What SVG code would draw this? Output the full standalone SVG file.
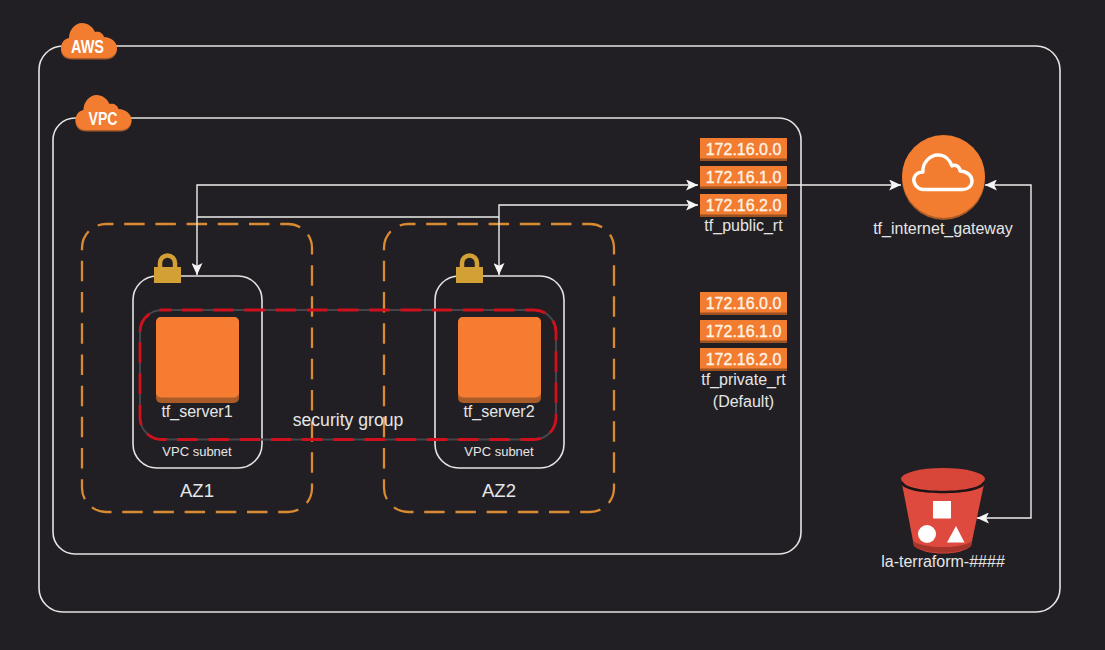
<svg xmlns="http://www.w3.org/2000/svg" width="1105" height="650" viewBox="0 0 1105 650">
<style>
text{font-family:"Liberation Sans",Arial,sans-serif;fill:#e6e6e6;text-anchor:middle}
.box{fill:none;stroke:#e4e4e4;stroke-width:1.6}
.az{fill:none;stroke:#d98a33;stroke-width:2.300;stroke-dasharray:20.500 10.700;stroke-dashoffset:13}
.sgb{fill:none;stroke:#45454a;stroke-width:2}
.sgr{fill:none;stroke:#d0101c;stroke-width:2.800;stroke-dasharray:20.500 10.700;stroke-dashoffset:11.200}
.c{fill:none;stroke:#eeeeee;stroke-width:1.4}
.cidr{font-size:16px;fill:#fff3e6;stroke:#fff3e6;stroke-width:.35px}
.lbl{font-size:16px}
.sm{font-size:13px}
.tag{font-size:18.500px;font-weight:bold;fill:#fff}
</style>
<defs>
<marker id="a" viewBox="0 0 14 12" refX="13" refY="6" markerWidth="13" markerHeight="11" markerUnits="userSpaceOnUse" orient="auto-start-reverse"><path d="M0 0L13 6L0 12L3 6Z" fill="#f5f5f5"/></marker>
<g id="rt"><rect width="87" height="23" fill="#9c5221"/><rect width="87" height="20.500" fill="#f27c2f"/></g>
<g id="lock"><path d="M-7.500 0V-6a7.500 7.500 0 0 1 15 0V0" fill="none" stroke="#d2a035" stroke-width="4.500"/><rect x="-13.500" y="-2" width="27" height="16" fill="#d2a035"/></g>
<g id="srv"><rect width="83" height="86" rx="5" fill="#a95b28"/><rect width="83" height="80.500" rx="5" fill="#f67c31"/></g>
<path id="tagshape" d="M72 58C65 58 61 54 61 48C61 43 64 39 69 38C69 30 75 23 82 23C88 23 93 27 95 32C99 31 103 33 104 37C111 37 117 42 117 48C117 54 112 58 106 58Z"/>
</defs>
<rect width="1105" height="650" fill="#211f23"/>
<rect id="aws-frame" class="box" x="39" y="46" width="1021" height="566" rx="24"/>
<rect id="vpc-frame" class="box" x="53" y="118" width="748" height="436" rx="22"/>

<g id="aws-tag"><use href="#tagshape" y="1.500" fill="#a95b28"/><use href="#tagshape" fill="#f27c2f"/><text class="tag" x="87.500" y="52.500" textLength="33" lengthAdjust="spacingAndGlyphs">AWS</text></g>
<g id="vpc-tag"><use href="#tagshape" x="14.500" y="73.500" fill="#a95b28"/><use href="#tagshape" x="14.500" y="72" fill="#f27c2f"/><text class="tag" x="103" y="124.500" textLength="29" lengthAdjust="spacingAndGlyphs">VPC</text></g>

<g id="az1"><rect class="az" x="82" y="224" width="230" height="288" rx="24"/><text x="197" y="497" font-size="18.500">AZ1</text></g>
<g id="az2"><rect class="az" x="384" y="224" width="230" height="288" rx="24"/><text x="499" y="497" font-size="18.500">AZ2</text></g>

<g id="subnet1"><rect class="box" x="133" y="276" width="129" height="192" rx="24"/><use href="#lock" x="167.500" y="269"/><text class="sm" x="197" y="456">VPC subnet</text></g>
<g id="subnet2"><rect class="box" x="435" y="276" width="129" height="192" rx="24"/><use href="#lock" x="469.500" y="269"/><text class="sm" x="499" y="456">VPC subnet</text></g>

<g id="tf_server1"><use href="#srv" x="156" y="317"/><text class="lbl" x="197" y="417">tf_server1</text></g>
<g id="tf_server2"><use href="#srv" x="458" y="317"/><text class="lbl" x="499" y="417">tf_server2</text></g>

<g id="security-group"><rect class="sgb" x="140" y="310" width="416" height="129.500" rx="22"/><rect class="sgr" x="140" y="310" width="416" height="129.500" rx="22"/><text x="348" y="425.500" font-size="17.600">security group</text></g>

<g id="connectors">
<path class="c" d="M197 275V185H698" marker-start="url(#a)" marker-end="url(#a)"/>
<path class="c" d="M197 217H499"/>
<path class="c" d="M499 275V205H698" marker-start="url(#a)" marker-end="url(#a)"/>
<path class="c" d="M787 185H901" marker-end="url(#a)"/>
<path class="c" d="M985 185H1031V518H977" marker-start="url(#a)" marker-end="url(#a)"/>
</g>

<g id="tf_public_rt">
<use href="#rt" x="700" y="138"/><text class="cidr" x="743.500" y="155">172.16.0.0</text>
<use href="#rt" x="700" y="166"/><text class="cidr" x="743.500" y="183">172.16.1.0</text>
<use href="#rt" x="700" y="194"/><text class="cidr" x="743.500" y="211">172.16.2.0</text>
<text class="lbl" x="743.500" y="231">tf_public_rt</text></g>

<g id="tf_private_rt">
<use href="#rt" x="700" y="292"/><text class="cidr" x="743.500" y="309">172.16.0.0</text>
<use href="#rt" x="700" y="320"/><text class="cidr" x="743.500" y="337">172.16.1.0</text>
<use href="#rt" x="700" y="348"/><text class="cidr" x="743.500" y="365">172.16.2.0</text>
<text class="lbl" x="743.500" y="385">tf_private_rt</text>
<text class="lbl" x="743.500" y="407">(Default)</text></g>

<g id="tf_internet_gateway">
<circle cx="943.500" cy="178.500" r="41.500" fill="#a95b28"/><circle cx="943.500" cy="176.500" r="41.500" fill="#f27c2f"/>
<path d="M924 189.500C916 189.500 913 182 914 178C915 174 919 172 923 172C922 163 930 155 938 155C945 155 950 160 952 166C956 164 960 167 960 171C967 171 972 176 972 181C972 186 968 189.500 963 189.500Z" fill="none" stroke="#fff" stroke-width="3.400" stroke-linejoin="round"/>
<text class="lbl" x="943" y="234">tf_internet_gateway</text></g>

<g id="la-terraform">
<path d="M902 484L914 546C925 556 961 556 971 546L984 484Z" fill="#df4a3e"/>
<path d="M912.800 541C925 549 961 549 972.200 541L971 546C961 555 925 555 914 546Z" fill="#a8352c"/>
<ellipse cx="943" cy="479" rx="42" ry="11" fill="#d8463a"/>
<path d="M901.500 481C908 494 978 494 984.500 481L984 485C976 496 910 496 902 485Z" fill="#1c1416"/>
<rect x="933" y="501" width="18" height="17.500" fill="#fff"/>
<circle cx="927" cy="534" r="9" fill="#fff"/>
<path d="M956 526L964.500 542.500H947Z" fill="#fff"/>
<text class="lbl" x="943" y="567">la-terraform-####</text></g>
</svg>
